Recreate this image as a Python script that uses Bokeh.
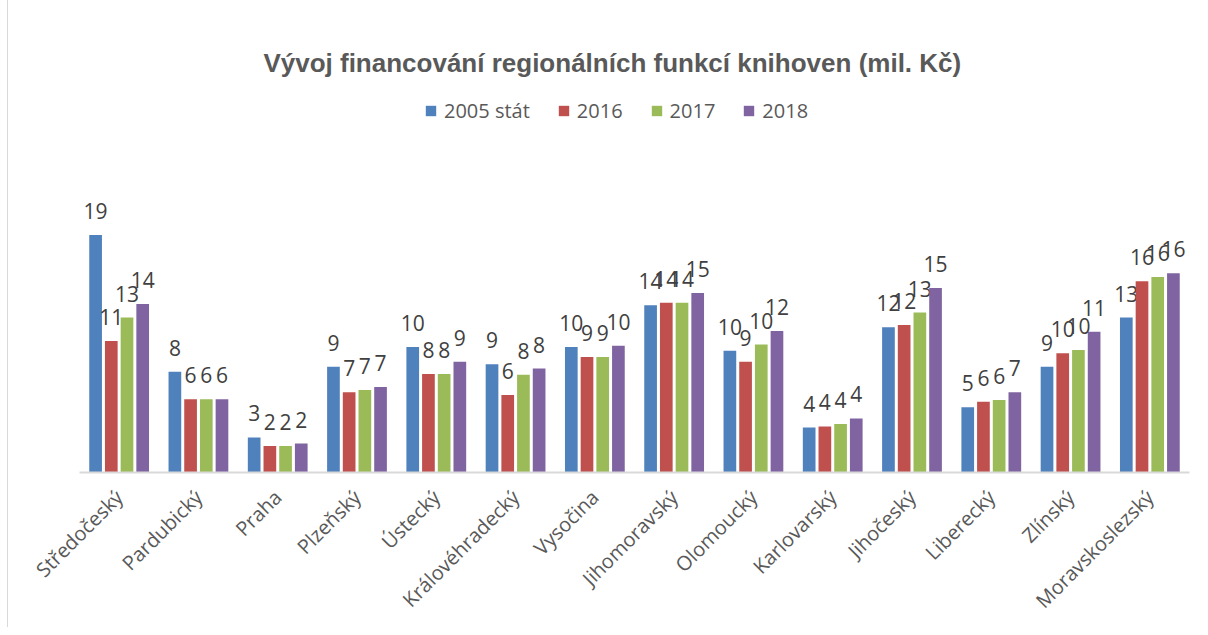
import math
from bokeh.plotting import figure
from bokeh.models import ColumnDataSource, FactorRange, Range1d, Legend, LegendItem
from bokeh.transform import dodge
from bokeh.core.properties import value
from bokeh.embed import file_html
from bokeh.resources import INLINE

# ---- data ----
categories = ["Středočeský", "Pardubický", "Praha", "Plzeňský", "Ústecký",
              "Královéhradecký", "Vysočina", "Jihomoravský", "Olomoucký",
              "Karlovarský", "Jihočeský", "Liberecký", "Zlínský", "Moravskoslezský"]
series_names = ["2005 stát", "2016", "2017", "2018"]
s2005 = [19.3, 8.2, 2.85, 8.6, 10.2, 8.8, 10.2, 13.6, 9.9, 3.65, 11.8, 5.3, 8.6, 12.6]
s2016 = [10.7, 5.95, 2.15, 6.52, 8.0, 6.3, 9.4, 13.8, 9.0, 3.75, 12.0, 5.75, 9.7, 15.55]
s2017 = [12.6, 5.95, 2.15, 6.7, 8.0, 7.95, 9.4, 13.8, 10.4, 3.95, 13.0, 5.9, 9.95, 15.9]
s2018 = [13.7, 5.95, 2.35, 6.95, 9.0, 8.45, 10.3, 14.6, 11.5, 4.4, 15.0, 6.52, 11.45, 16.2]
title_text = "Vývoj financování regionálních funkcí knihoven (mil. Kč)"

colors = ["#4F81BD", "#C0504D", "#9BBB59", "#8064A2"]
offsets = [-0.297, -0.099, 0.099, 0.297]
series = [s2005, s2016, s2017, s2018]

data = {"cat": categories}
for i, s in enumerate(series):
    data[f"v{i}"] = s
    data[f"t{i}"] = [f"{v:.0f}" for v in s]
source = ColumnDataSource(data)

PX = 12.3          # pixels per unit
FRAME_H = 472      # frame height in px

p = figure(x_range=FactorRange(*categories), y_range=Range1d(0, FRAME_H / PX),
           width=1192, height=627, output_backend="svg", toolbar_location=None,
           min_border_left=71, min_border_right=11, min_border_top=0,
           min_border_bottom=627 - FRAME_H)
p.styles = {"border-left": "1px solid #d9d9d9", "margin-left": "7px"}

items = []
for i in range(4):
    r = p.vbar(x=dodge("cat", offsets[i], range=p.x_range), top=f"v{i}", width=0.16,
               bottom=0, source=source, fill_color=colors[i], line_color=None)
    items.append(LegendItem(label=series_names[i], renderers=[r]))
    p.text(x=dodge("cat", offsets[i], range=p.x_range), y=f"v{i}", text=f"t{i}",
           source=source, text_align="center", text_baseline="alphabetic",
           y_offset=-24, text_font=value("Open Sans"), text_font_size="21px",
           text_color="#404040")

# title
p.text(x=[6.72], y=[(FRAME_H - 62.7) / PX], text=[title_text], text_align="center",
       text_baseline="alphabetic", text_font=value("Liberation Sans"),
       text_font_style="bold", text_font_size="26px", text_color="#595959")

legend = Legend(items=items, orientation="horizontal", location=(345, 348),
                glyph_width=13, glyph_height=13, label_standoff=7, spacing=27,
                padding=0, margin=0, border_line_color=None, background_fill_alpha=0,
                label_text_font="Open Sans", label_text_font_size="20px",
                label_text_color="#595959")
p.add_layout(legend)

p.xgrid.visible = False
p.ygrid.visible = False
p.yaxis.visible = False
p.outline_line_color = None
ax = p.xaxis[0]
ax.major_label_orientation = math.pi / 4
ax.major_tick_line_color = None
ax.minor_tick_line_color = None
ax.axis_line_color = "#d9d9d9"
ax.axis_line_width = 2
ax.major_label_text_font = "Open Sans"
ax.major_label_text_font_size = "20px"
ax.major_label_text_color = "#595959"
ax.major_label_standoff = 15

open("out.html", "w").write(file_html(p, INLINE))
